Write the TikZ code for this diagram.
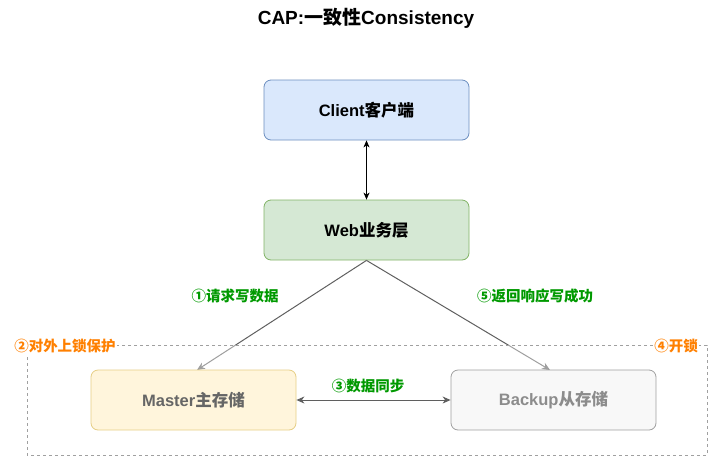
\documentclass[tikz,border=0pt]{standalone}
\usepackage{fontspec}
\setmainfont{Liberation Sans}
\newfontfamily\cjk{Noto Sans CJK SC}
\usetikzlibrary{arrows.meta}
\definecolor{bluefill}{HTML}{DAE8FC}
\definecolor{bluedraw}{HTML}{6C8EBF}
\definecolor{greenfill}{HTML}{D5E8D4}
\definecolor{greendraw}{HTML}{82B366}
\definecolor{yelfill}{HTML}{FFF5DC}
\definecolor{yeldraw}{HTML}{E6CE85}
\definecolor{grayfill}{HTML}{F8F8F8}
\definecolor{graydraw}{HTML}{A0A0A0}
\definecolor{linegray}{HTML}{5F5F5F}
\definecolor{lblgreen}{HTML}{009900}
\definecolor{lblorange}{HTML}{FF8000}
\tikzset{
  box/.style={rounded corners=7pt, minimum width=205pt, minimum height=60pt, inner sep=0pt, line width=0.8pt, font=\fontsize{16.5}{20}\selectfont\bfseries},
  conn/.style={draw=linegray, line width=1pt, -{Stealth[length=8pt,width=7pt,inset=2.5pt]}},
  steplbl/.style={text=lblgreen, font=\fontsize{14.5}{18}\selectfont\bfseries, inner sep=1pt},
  locklbl/.style={text=lblorange, fill=white, font=\fontsize{14.5}{18}\selectfont\bfseries, inner sep=1pt}
}
\begin{document}
\begin{tikzpicture}[x=1pt,y=-1pt]
\useasboundingbox (0,0) rectangle (710,456);
\node[font=\fontsize{19}{22}\selectfont\bfseries] (title) at (366,18) {CAP:{\cjk 一致性}Consistency};
\node[box, fill=bluefill, draw=bluedraw] (client) at (366.5,110) {Client{\cjk 客户端}};
\node[box, fill=greenfill, draw=greendraw] (web) at (366.5,230) {Web{\cjk 业务层}};
\coordinate (mtop) at (197,370);
\coordinate (btop) at (550,370);
\draw[conn] (web.south) -- (mtop);
\draw[conn] (web.south) -- (btop);
\draw[black, line width=1pt, {Stealth[length=7pt,width=6pt,inset=2pt]}-{Stealth[length=7pt,width=6pt,inset=2pt]}] (client.south) -- (web.north);
\path[fill=white, fill opacity=0.4] (27,345) rectangle (707,455);
\draw[draw=graydraw, dashed, dash pattern=on 3pt off 3pt, line width=0.8pt] (27,345) rectangle (707,455);
\node[box, fill=yelfill, draw=yeldraw, text=black!60] (master) at (193.5,400) {Master{\cjk 主存储}};
\node[box, fill=grayfill, draw=graydraw, text=black!45] (backup) at (553.5,400) {Backup{\cjk 从存储}};
\draw[draw=linegray, line width=1pt, {Stealth[length=8pt,width=7pt,inset=2.5pt]}-{Stealth[length=8pt,width=7pt,inset=2.5pt]}] (master.east) -- (backup.west);
\node[steplbl] (l1) at (235,296) {\cjk ①请求写数据};
\node[steplbl] (l5) at (535,296) {\cjk ⑤返回响应写成功};
\node[steplbl] (l3) at (368,386) {\cjk ③数据同步};
\node[locklbl] (l2) at (65,346) {\cjk ②对外上锁保护};
\node[locklbl] (l4) at (676,346) {\cjk ④开锁};
\end{tikzpicture}
\end{document}
